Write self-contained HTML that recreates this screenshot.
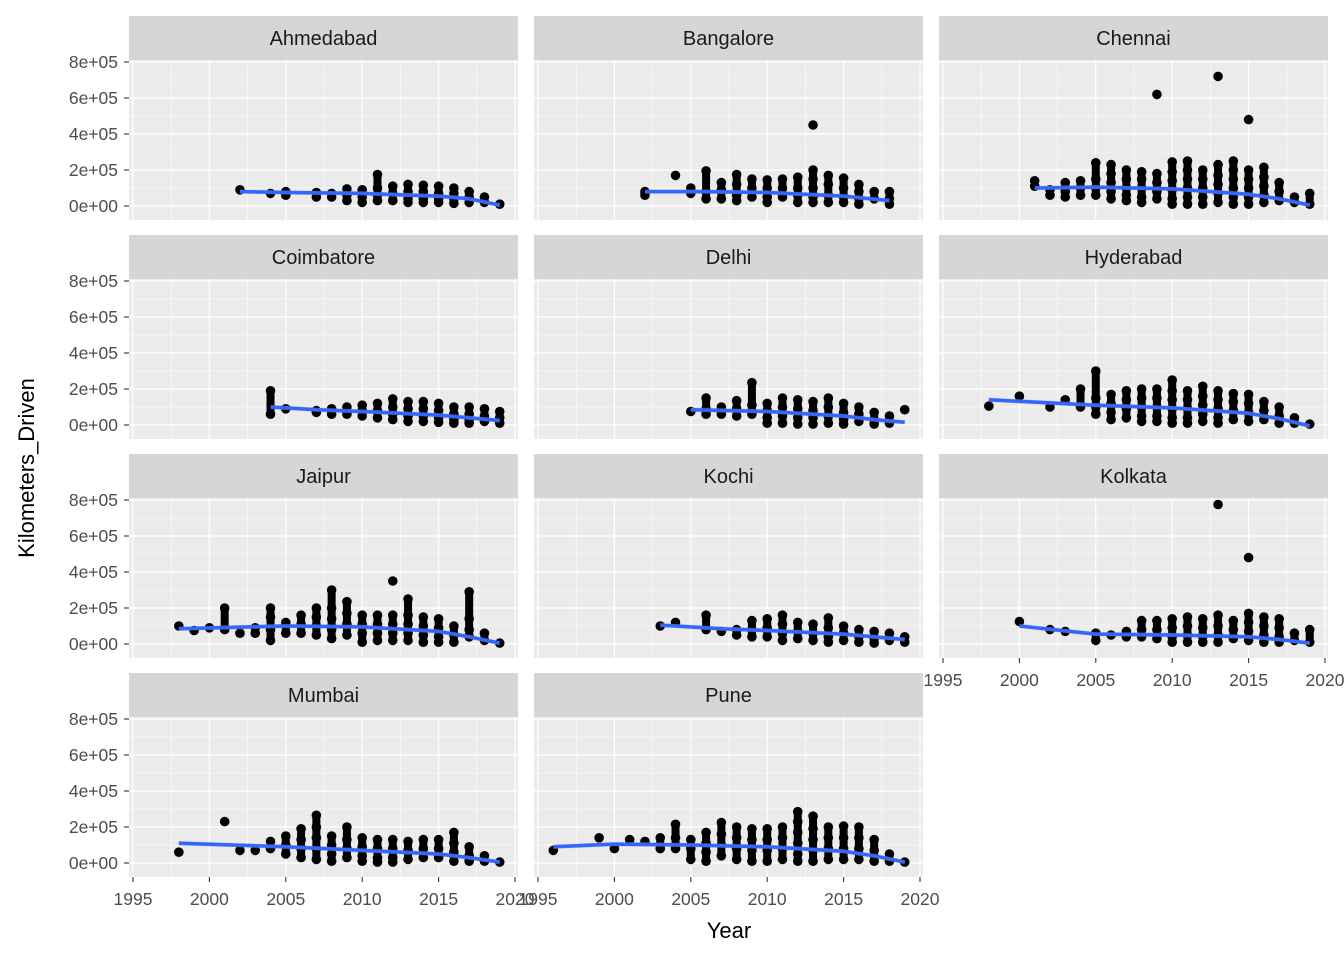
<!DOCTYPE html>
<html><head><meta charset="utf-8"><style>
body{margin:0;background:#fff}
svg{display:block;font-family:"Liberation Sans",Arial,sans-serif}
</style></head><body>
<svg id="chart" width="1344" height="960" viewBox="0 0 1344 960" xmlns="http://www.w3.org/2000/svg"></svg>
<script>
const cities = ["Ahmedabad","Bangalore","Chennai","Coimbatore","Delhi","Hyderabad","Jaipur","Kochi","Kolkata","Mumbai","Pune"];
const yTicks = [0,200000,400000,600000,800000];
const yTickLabels = ["0e+00","2e+05","4e+05","6e+05","8e+05"];
const xTicks = [1995,2000,2005,2010,2015,2020];
// points (thousands of km): [year, [values]]
const points = {
Ahmedabad:[[2002,[90]],[2004,[70]],[2005,[80,60]],[2007,[75,50]],[2008,[70,50]],[2009,[95,60,30]],[2010,[90,50,20]],[2011,[175,100,60,30]],[2012,[110,70,30]],[2013,[120,80,40,20]],[2014,[115,80,40,20]],[2015,[110,70,40,20]],[2016,[100,70,40,15]],[2017,[80,50,20]],[2018,[50,20]],[2019,[10]]],
Bangalore:[[2002,[60,80]],[2004,[170]],[2005,[100,70]],[2006,[195,80,40]],[2007,[130,90,40]],[2008,[175,120,60,30]],[2009,[150,100,50]],[2010,[145,100,50,20]],[2011,[150,100,50]],[2012,[160,100,60,20]],[2013,[450,200,150,100,50,20]],[2014,[170,120,60,20]],[2015,[155,100,50,20]],[2016,[120,80,40,10]],[2017,[80,40]],[2018,[80,40,10]]],
Chennai:[[2001,[140,110]],[2002,[90,60]],[2003,[130,80,50]],[2004,[140,100,60]],[2005,[240,150,100,60]],[2006,[230,180,130,80,40]],[2007,[200,150,100,60,30]],[2008,[190,150,100,50,20]],[2009,[620,180,130,80,40]],[2010,[245,190,140,90,40,10]],[2011,[250,200,150,100,50,10]],[2012,[200,150,100,50,10]],[2013,[720,230,170,120,70,20]],[2014,[250,200,150,100,50,10]],[2015,[480,200,150,100,50,10]],[2016,[215,160,110,60,20]],[2017,[130,80,30]],[2018,[50,20]],[2019,[70,10]]],
Coimbatore:[[2004,[190,60]],[2005,[90]],[2007,[80,70]],[2008,[90,60]],[2009,[100,60]],[2010,[110,80,50]],[2011,[120,80,40]],[2012,[145,100,60,30]],[2013,[130,90,50,20]],[2014,[130,90,50,20]],[2015,[120,80,40,15]],[2016,[100,60,30,10]],[2017,[100,60,30,10]],[2018,[90,50,20]],[2019,[75,40,10]]],
Delhi:[[2005,[75]],[2006,[150,90,60]],[2007,[100,60]],[2008,[135,90,50]],[2009,[235,110,60]],[2010,[120,80,40,10]],[2011,[150,100,50,10]],[2012,[140,90,40,5]],[2013,[130,80,40,5]],[2014,[150,100,50,10]],[2015,[120,70,30,5]],[2016,[100,60,20]],[2017,[70,30,5]],[2018,[50,10]],[2019,[85]]],
Hyderabad:[[1998,[105]],[2000,[160]],[2002,[100]],[2003,[140]],[2004,[200,100]],[2005,[300,150,100,60]],[2006,[170,120,70,30]],[2007,[190,140,90,40]],[2008,[200,150,100,50,20]],[2009,[200,150,100,50,20]],[2010,[250,190,140,90,40,10]],[2011,[190,140,90,40,10]],[2012,[215,160,110,60,20]],[2013,[190,140,90,40,10]],[2014,[175,130,80,30]],[2015,[170,120,70,20]],[2016,[130,80,30]],[2017,[100,50,10]],[2018,[40,10]],[2019,[5]]],
Jaipur:[[1998,[100]],[1999,[75]],[2000,[90]],[2001,[200,80]],[2002,[60]],[2003,[90,60]],[2004,[200,150,80,20]],[2005,[120,60]],[2006,[160,110,60]],[2007,[200,150,100,50]],[2008,[300,200,140,80,30]],[2009,[235,170,110,50]],[2010,[160,110,60,10]],[2011,[160,110,60,20]],[2012,[350,160,110,60,20]],[2013,[250,160,110,60,20]],[2014,[150,100,50,10]],[2015,[140,90,40,10]],[2016,[100,50,10]],[2017,[290,140,80,40]],[2018,[60,20]],[2019,[5]]],
Kochi:[[2003,[100]],[2004,[120]],[2006,[160,80]],[2007,[70]],[2008,[80,50]],[2009,[130,80,40]],[2010,[140,90,40]],[2011,[160,110,60,20]],[2012,[120,70,30]],[2013,[110,60,20]],[2014,[145,90,40,10]],[2015,[100,60,20]],[2016,[80,40,10]],[2017,[70,30,5]],[2018,[60,20]],[2019,[40,10]]],
Kolkata:[[2000,[125]],[2002,[80]],[2003,[70]],[2005,[60,20]],[2006,[50]],[2007,[70,40]],[2008,[130,80,40]],[2009,[130,80,30]],[2010,[140,90,40,10]],[2011,[150,100,50,10]],[2012,[140,90,40,10]],[2013,[775,160,100,50,10]],[2014,[130,80,30]],[2015,[480,170,120,70,20]],[2016,[150,100,50,10]],[2017,[140,90,40,10]],[2018,[60,20]],[2019,[80,10]]],
Mumbai:[[1998,[60]],[2001,[230]],[2002,[70]],[2003,[70]],[2004,[120,80]],[2005,[150,100,50]],[2006,[190,130,80,30]],[2007,[265,200,140,80,20]],[2008,[150,100,50,10]],[2009,[200,130,80,30]],[2010,[140,90,40,10]],[2011,[130,80,30,5]],[2012,[130,80,30,5]],[2013,[120,70,20]],[2014,[130,80,30]],[2015,[130,80,30]],[2016,[170,110,60,10]],[2017,[90,40,10]],[2018,[40,10]],[2019,[5]]],
Pune:[[1996,[70]],[1999,[140]],[2000,[80]],[2001,[130]],[2002,[120]],[2003,[140,80]],[2004,[215,140,80]],[2005,[130,80,20]],[2006,[170,110,60,10]],[2007,[225,160,100,40]],[2008,[200,140,80,20]],[2009,[190,130,70,10]],[2010,[190,130,70,10]],[2011,[200,140,80,20]],[2012,[285,230,170,110,50,10]],[2013,[260,190,130,70,10]],[2014,[200,140,80,20]],[2015,[205,140,80,20]],[2016,[200,140,80,20]],[2017,[130,70,10]],[2018,[50,10]],[2019,[5]]]
};
// smooth trend (thousands): [year, value]
const trends = {
Ahmedabad:[[2002,80],[2005,75],[2010,70],[2015,55],[2017,40],[2019,5]],
Bangalore:[[2002,80],[2006,80],[2010,75],[2015,55],[2018,30]],
Chennai:[[2001,100],[2005,105],[2010,95],[2015,65],[2017,40],[2019,5]],
Coimbatore:[[2004,100],[2007,85],[2010,75],[2015,55],[2019,25]],
Delhi:[[2005,85],[2010,75],[2015,50],[2017,30],[2019,15]],
Hyderabad:[[1998,140],[2005,110],[2010,95],[2015,65],[2017,35],[2019,-5]],
Jaipur:[[1998,85],[2005,100],[2010,95],[2015,70],[2017,40],[2019,5]],
Kochi:[[2003,105],[2007,85],[2010,75],[2015,55],[2019,25]],
Kolkata:[[2000,100],[2005,55],[2010,50],[2015,40],[2017,25],[2019,5]],
Mumbai:[[1998,110],[2005,90],[2010,70],[2015,50],[2017,30],[2019,5]],
Pune:[[1996,90],[2000,105],[2005,100],[2010,90],[2015,65],[2017,40],[2019,5]]
};
const svg = document.getElementById('chart');
const NS = 'http://www.w3.org/2000/svg';
function mk(tag, attrs, parent){const e=document.createElementNS(NS,tag);for(const k in attrs)e.setAttribute(k,attrs[k]);(parent||svg).appendChild(e);return e;}
const colX=[129,534,939], PW=389;
const stripY=[16,235,454,673], SH=44, PH=160;
function xs(col,yr){return colX[col]+4+(yr-1995)*(382/25);}
function ys(row,v){return stripY[row]+SH+146-v*(144/800000);}
cities.forEach((city,i)=>{
  const row=Math.floor(i/3), col=i%3;
  const g=mk('g',{});
  
  
  const px=colX[col], py=stripY[row]+SH;
  const strip=mk('rect',{x:px,y:stripY[row],width:PW,height:SH,fill:'#d6d6d6'},g);
  
  
  const st=mk('text',{x:px+PW/2,y:stripY[row]+29,'text-anchor':'middle','font-size':20,fill:'#1a1a1a'},g);
  st.textContent=city;
  
  
  mk('rect',{x:px,y:py,width:PW,height:PH,fill:'#ebebeb'},g);
  for(let v=100000;v<=900000;v+=200000){const y=ys(row,v);if(y>py&&y<py+PH)mk('line',{x1:px,x2:px+PW,y1:y,y2:y,stroke:'#fff','stroke-width':0.6},g);}
  for(let yr=1997.5;yr<2021;yr+=5){const x=xs(col,yr);mk('line',{x1:x,x2:x,y1:py,y2:py+PH,stroke:'#fff','stroke-width':0.6},g);}
  yTicks.forEach(v=>{const y=ys(row,v);mk('line',{x1:px,x2:px+PW,y1:y,y2:y,stroke:'#fff','stroke-width':1.2},g);});
  xTicks.forEach(yr=>{const x=xs(col,yr);mk('line',{x1:x,x2:x,y1:py,y2:py+PH,stroke:'#fff','stroke-width':1.2},g);});
  points[city].forEach(([yr,vals])=>{
    const x=xs(col,yr);
    const core=vals.filter(v=>v<=300);
    if(core.length>1){const mn=Math.min(...core)*1000,mx=Math.max(...core)*1000;
      mk('line',{x1:x,x2:x,y1:ys(row,mn),y2:ys(row,mx),stroke:'#000','stroke-width':8},g);}
    vals.forEach(v=>{
      const c=mk('circle',{cx:x,cy:ys(row,v*1000),r:4.8,fill:'#000'},g);
      
      
    });
  });
  const tr=trends[city];
  const up=tr.map(([yr,v])=>xs(col,yr)+','+ys(row,(v+12)*1000));
  const dn=tr.slice().reverse().map(([yr,v])=>xs(col,yr)+','+ys(row,(v-12)*1000));
  mk('polygon',{points:up.concat(dn).join(' '),fill:'#999','fill-opacity':0.4},g);
  const ln=mk('polyline',{points:tr.map(([yr,v])=>xs(col,yr)+','+ys(row,v*1000)).join(' '),fill:'none',stroke:'#3366ff','stroke-width':3.5,'stroke-linejoin':'round'},g);
  
  
  if(col===0){
    yTicks.forEach((v,k)=>{const y=ys(row,v);
      mk('line',{x1:px-5,x2:px,y1:y,y2:y,stroke:'#333','stroke-width':1.1});
      const t=mk('text',{x:px-11,y:y+6,'text-anchor':'end','font-size':17.5,fill:'#4d4d4d'});
      t.textContent=yTickLabels[k];
      
      
    });
  }
  if(i>=8){
    xTicks.forEach(yr=>{const x=xs(col,yr);
      mk('line',{x1:x,x2:x,y1:py+PH,y2:py+PH+5,stroke:'#333','stroke-width':1.1});
      const t=mk('text',{x:x,y:py+PH+28,'text-anchor':'middle','font-size':17.5,fill:'#4d4d4d'});
      t.textContent=String(yr);
      
      
    });
  }
});
const yt=mk('text',{x:34,y:468,'text-anchor':'middle','font-size':22,fill:'#000',transform:'rotate(-90 34 468)'});
yt.textContent='Kilometers_Driven';


const xt=mk('text',{x:729,y:938,'text-anchor':'middle','font-size':22,fill:'#000'});
xt.textContent='Year';


</script>
</body></html>
